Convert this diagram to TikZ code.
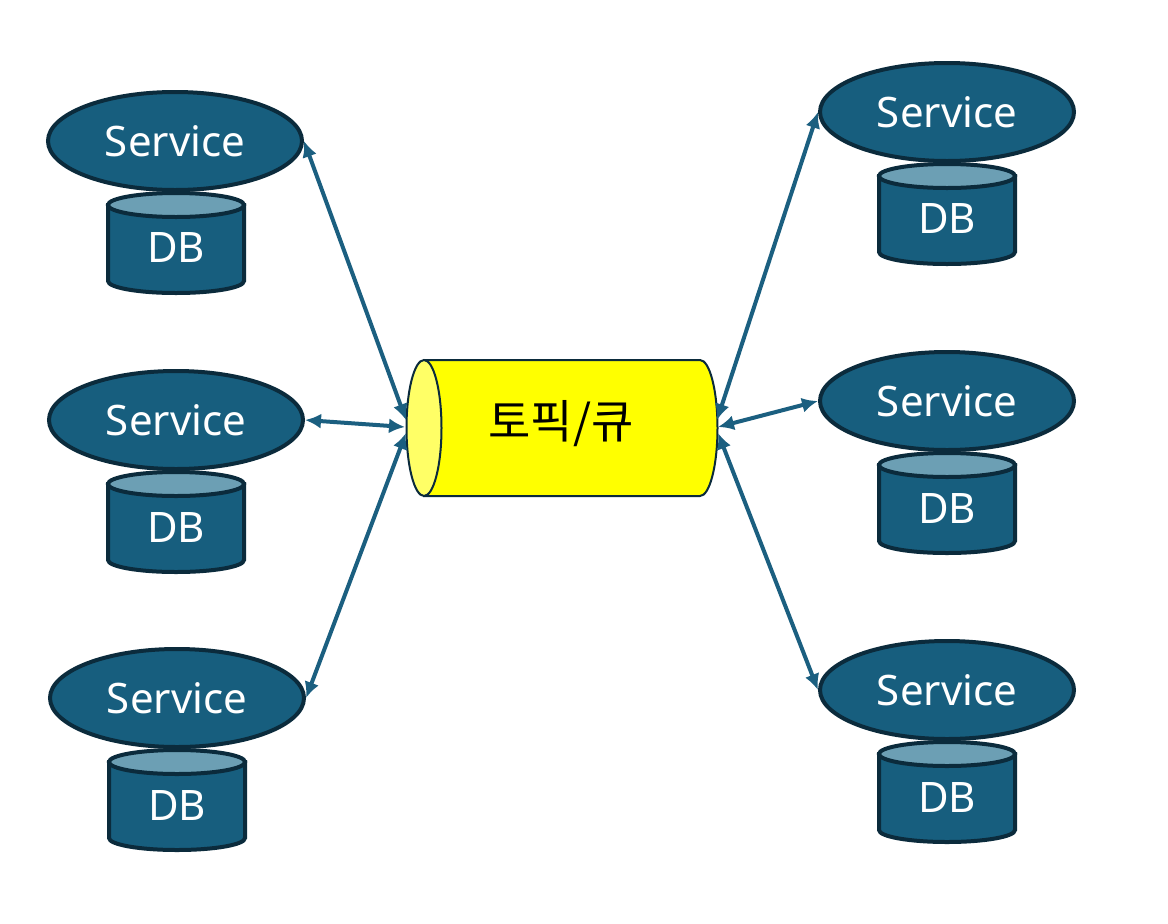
\documentclass[tikz,border=0pt]{standalone}
\usepackage{fontspec}
\setmainfont{Noto Sans}
\newfontfamily\kr{Noto Sans CJK KR}
\usetikzlibrary{shapes.geometric,arrows.meta}
\definecolor{svcfill}{HTML}{175E7E}
\definecolor{svcline}{HTML}{0B2B3C}
\definecolor{dbtop}{HTML}{6C9FB4}
\definecolor{arrowc}{HTML}{1B5F80}
\definecolor{qfill}{HTML}{FFFF00}
\definecolor{qend}{HTML}{FFFF66}
\definecolor{qline}{HTML}{0B2B3C}
\tikzset{
  svc/.style={ellipse, draw=svcline, line width=4pt, fill=svcfill, text=white,
    minimum width=254pt, minimum height=98pt, inner sep=0pt, font=\fontsize{42}{46}\selectfont},
  dblabel/.style={text=white, inner sep=0pt, font=\fontsize{42}{46}\selectfont},
  dbbody/.style={draw=svcline, line width=4pt, fill=svcfill},
  dbcap/.style={draw=svcline, line width=4pt, fill=dbtop},
  link/.style={draw=arrowc, line width=4pt, {Latex[length=16pt,width=15pt]}-{Latex[length=16pt,width=15pt]}},
}
\newcommand{\dbcyl}[3]{% center x, service center y, name
  \path[dbbody] (#1-68,#2+64) -- (#1-68,#2+140) arc[start angle=180,end angle=360,x radius=68pt,y radius=12pt] -- (#1+68,#2+64) -- cycle;
  \path[dbcap] (#1,#2+64) ellipse[x radius=68pt,y radius=12pt];
  \node[dblabel] (#3) at (#1,#2+107) {DB};
}
\begin{document}
\begin{tikzpicture}[x=1pt,y=-1pt]
\useasboundingbox[fill=white] (0,0) rectangle (1168,924);
% databases
\dbcyl{176}{141}{d1}
\dbcyl{176}{420}{d2}
\dbcyl{177}{698}{d3}
\dbcyl{947}{112}{d4}
\dbcyl{947}{401}{d5}
\dbcyl{947}{690}{d6}
% services
\node[svc] (s1) at (175,141) {Service};
\node[svc] (s2) at (176,420) {Service};
\node[svc] (s3) at (177,698) {Service};
\node[svc] (s4) at (947,112) {Service};
\node[svc] (s5) at (947,401) {Service};
\node[svc] (s6) at (947,690) {Service};
% queue
\path[draw=qline, line width=2pt, fill=qfill] (424,360) -- (700,360)
  arc[start angle=90,end angle=-90,x radius=17.5pt,y radius=68pt] -- (424,496) -- cycle;
\path[draw=qline, line width=2pt, fill=qend] (424,428) ellipse[x radius=17.5pt,y radius=68pt];
\node[inner sep=0pt, font=\kr\fontsize{46}{50}\selectfont] (q) at (561,424) {토픽/큐};
\coordinate (qL1) at (406,420);
\coordinate (qL2) at (405,427);
\coordinate (qL3) at (406,433);
\coordinate (qR1) at (717,420);
\coordinate (qR2) at (718,427);
\coordinate (qR3) at (718,433);
% links
\draw[link] (s1.east) -- (qL1);
\draw[link] (s2.east) -- (qL2);
\draw[link] (s3.east) -- (qL3);
\draw[link] (s4.west) -- (qR1);
\draw[link] (s5.west) -- (qR2);
\draw[link] (s6.west) -- (qR3);
\end{tikzpicture}
\end{document}
